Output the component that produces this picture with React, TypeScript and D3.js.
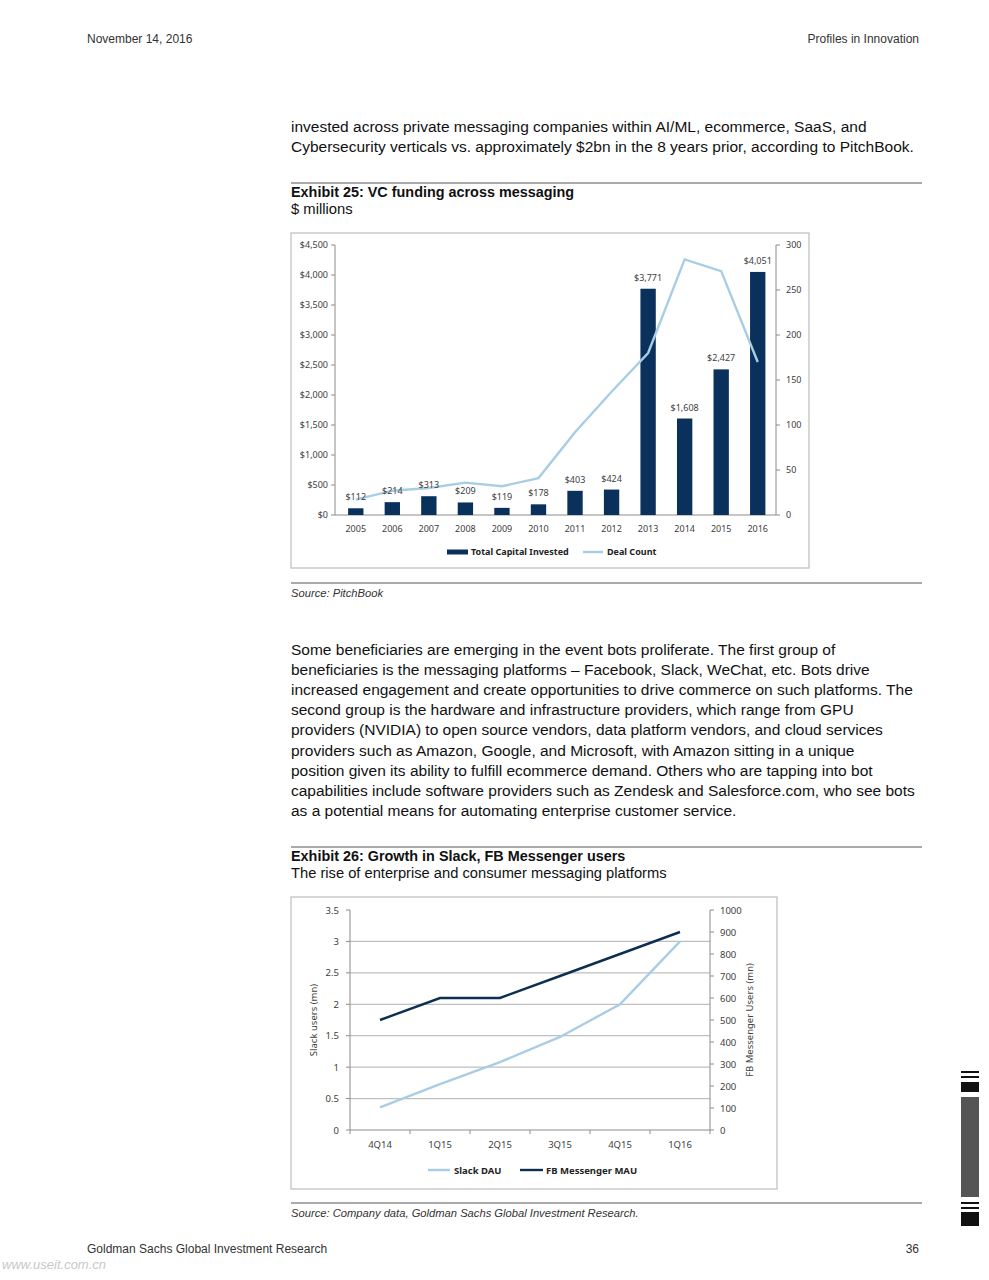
import * as d3 from "d3";

const years = ["2005", "2006", "2007", "2008", "2009", "2010", "2011", "2012", "2013", "2014", "2015", "2016"];
const capitalInvested = [112, 214, 313, 209, 119, 178, 403, 424, 3771, 1608, 2427, 4051];
const dealCount = [17, 27, 30, 36, 32, 41, 92, 137, 180, 284, 271, 170];
const capitalTicks = [0, 500, 1000, 1500, 2000, 2500, 3000, 3500, 4000, 4500];
const dealTicks = [0, 50, 100, 150, 200, 250, 300];

const quarters = ["4Q14", "1Q15", "2Q15", "3Q15", "4Q15", "1Q16"];
const slackDau = [0.36, 0.73, 1.08, 1.48, 2.0, 3.0];
const fbMau = [500, 600, 600, 700, 800, 900];
const slackTicks = [0, 0.5, 1, 1.5, 2, 2.5, 3, 3.5];
const fbTicks = [0, 100, 200, 300, 400, 500, 600, 700, 800, 900, 1000];

const para1 = [
  "invested across private messaging companies within AI/ML, ecommerce, SaaS, and",
  "Cybersecurity verticals vs. approximately $2bn in the 8 years prior, according to PitchBook.",
];
const para2 = [
  "Some beneficiaries are emerging in the event bots proliferate. The first group of",
  "beneficiaries is the messaging platforms – Facebook, Slack, WeChat, etc. Bots drive",
  "increased engagement and create opportunities to drive commerce on such platforms. The",
  "second group is the hardware and infrastructure providers, which range from GPU",
  "providers (NVIDIA) to open source vendors, data platform vendors, and cloud services",
  "providers such as Amazon, Google, and Microsoft, with Amazon sitting in a unique",
  "position given its ability to fulfill ecommerce demand. Others who are tapping into bot",
  "capabilities include software providers such as Zendesk and Salesforce.com, who see bots",
  "as a potential means for automating enterprise customer service.",
];

const BODY = "'Liberation Sans', Arial, sans-serif";
const CHART = "'Noto Sans', 'Open Sans', sans-serif";
const NAVY = "#0a315c";
const LIGHT = "#a8cde4";
const AXIS = "#8c8c8c";
const LABEL = "#404040";

const fmtMoney = (v: number) => `$${d3.format(",")(v)}`;

function FundingChart() {
  const x = d3.scaleBand<string>().domain(years).range([337.5, 776]).paddingInner(0.58).paddingOuter(0.29);
  const yL = d3.scaleLinear().domain([0, 4500]).range([515, 245]);
  const yR = d3.scaleLinear().domain([0, 300]).range([515, 245]);
  const cx = (d: string) => (x(d) ?? 0) + x.bandwidth() / 2;
  const line = d3
    .line<number>()
    .x((_, i) => cx(years[i]))
    .y((d) => yR(d));

  return (
    <g fontFamily={CHART} fill={LABEL}>
      <rect x={291} y={233} width={518} height={335} fill="white" stroke="#bdbdbd" strokeWidth={1.2} />
      <line x1={335} x2={335} y1={yL(4500)} y2={yL(0)} stroke={AXIS} />
      <line x1={776} x2={776} y1={yR(300)} y2={yR(0)} stroke={AXIS} />
      <line x1={335} x2={776} y1={515} y2={515} stroke={AXIS} />
      {capitalTicks.map((t) => (
        <g key={t}>
          <line x1={331} x2={335} y1={yL(t)} y2={yL(t)} stroke={AXIS} />
          <text x={328} y={yL(t) + 3} textAnchor="end" fontSize={9}>
            {fmtMoney(t)}
          </text>
        </g>
      ))}
      {dealTicks.map((t) => (
        <g key={t}>
          <line x1={776} x2={780} y1={yR(t)} y2={yR(t)} stroke={AXIS} />
          <text x={786} y={yR(t) + 3} fontSize={9}>
            {t}
          </text>
        </g>
      ))}
      {years.map((yr, i) => (
        <g key={yr}>
          <rect x={x(yr)} y={yL(capitalInvested[i])} width={x.bandwidth()} height={515 - yL(capitalInvested[i])} fill={NAVY} />
          <text x={cx(yr)} y={532} textAnchor="middle" fontSize={9}>
            {yr}
          </text>
        </g>
      ))}
      <path d={line(dealCount) ?? ""} fill="none" stroke={LIGHT} strokeWidth={2.4} />
      {years.map((yr, i) => (
        <text key={yr} x={cx(yr)} y={yL(capitalInvested[i]) - 8} textAnchor="middle" fontSize={9}>
          {fmtMoney(capitalInvested[i])}
        </text>
      ))}
      <g fontSize={9} fontWeight="bold" fill="#222">
        <rect x={447} y={549.5} width={21} height={5} fill={NAVY} />
        <text x={471} y={555}>Total Capital Invested</text>
        <line x1={583} x2={603} y1={552} y2={552} stroke={LIGHT} strokeWidth={2.4} />
        <text x={607} y={555}>Deal Count</text>
      </g>
    </g>
  );
}

function UsersChart() {
  const x = d3.scaleBand<string>().domain(quarters).range([350, 710]);
  const yL = d3.scaleLinear().domain([0, 3.5]).range([1130, 910]);
  const yR = d3.scaleLinear().domain([0, 1000]).range([1130, 910]);
  const cx = (d: string) => (x(d) ?? 0) + x.bandwidth() / 2;
  const slackLine = d3
    .line<number>()
    .x((_, i) => cx(quarters[i]))
    .y((d) => yL(d));
  const fbLine = d3
    .line<number>()
    .x((_, i) => cx(quarters[i]))
    .y((d) => yR(d));

  return (
    <g fontFamily={CHART} fill={LABEL}>
      <rect x={291} y={897} width={486} height={292} fill="white" stroke="#bdbdbd" strokeWidth={1.2} />
      {slackTicks
        .filter((t) => t > 0 && t < 3.5)
        .map((t) => (
          <line key={t} x1={350} x2={710} y1={yL(t)} y2={yL(t)} stroke="#bfbfbf" strokeWidth={1.2} />
        ))}
      <line x1={350} x2={350} y1={910} y2={1130} stroke={AXIS} />
      <line x1={710} x2={710} y1={910} y2={1130} stroke={AXIS} />
      <line x1={350} x2={710} y1={1130} y2={1130} stroke={AXIS} />
      {slackTicks.map((t) => (
        <g key={t}>
          <line x1={346} x2={350} y1={yL(t)} y2={yL(t)} stroke={AXIS} />
          <text x={339} y={yL(t) + 3.5} textAnchor="end" fontSize={9.5}>
            {t}
          </text>
        </g>
      ))}
      {fbTicks.map((t) => (
        <g key={t}>
          <line x1={710} x2={714} y1={yR(t)} y2={yR(t)} stroke={AXIS} />
          <text x={720} y={yR(t) + 3.5} fontSize={9.5}>
            {t}
          </text>
        </g>
      ))}
      {quarters.map((q) => (
        <g key={q}>
          <line x1={(x(q) ?? 0) + x.bandwidth()} x2={(x(q) ?? 0) + x.bandwidth()} y1={1130} y2={1134} stroke={AXIS} />
          <text x={cx(q)} y={1148} textAnchor="middle" fontSize={9.5}>
            {q}
          </text>
        </g>
      ))}
      <line x1={350} x2={350} y1={1130} y2={1134} stroke={AXIS} />
      <text transform="translate(317,1020) rotate(-90)" textAnchor="middle" fontSize={9.5}>
        Slack users (mn)
      </text>
      <text transform="translate(753,1020) rotate(-90)" textAnchor="middle" fontSize={9.5}>
        FB Messenger Users (mn)
      </text>
      <path d={slackLine(slackDau) ?? ""} fill="none" stroke={LIGHT} strokeWidth={2.4} />
      <path d={fbLine(fbMau) ?? ""} fill="none" stroke="#0d2f52" strokeWidth={2.4} />
      <g fontSize={9.5} fontWeight="bold" fill="#222">
        <line x1={428} x2={450} y1={1170} y2={1170} stroke={LIGHT} strokeWidth={2.4} />
        <text x={454} y={1173.5}>Slack DAU</text>
        <line x1={520} x2={543} y1={1170} y2={1170} stroke="#0d2f52" strokeWidth={2.4} />
        <text x={546} y={1173.5}>FB Messenger MAU</text>
      </g>
    </g>
  );
}

export default function App() {
  return (
    <div style={{ position: "absolute", left: 0, top: 0 }}>
      <svg width={989} height={1280} style={{ display: "block", background: "white" }}>
        <g fontFamily={BODY} fill="#333">
          <text x={87} y={43} fontSize={12}>November 14, 2016</text>
          <text x={919} y={43} fontSize={12} textAnchor="end">Profiles in Innovation</text>

          {para1.map((l, i) => (
            <text key={i} x={291} y={132 + i * 20} fontSize={15.5} fill="#111">
              {l}
            </text>
          ))}

          <line x1={291} x2={922} y1={183} y2={183} stroke="#555" strokeWidth={1} />
          <text x={291} y={197} fontSize={14.4} fontWeight="bold" fill="#111">Exhibit 25: VC funding across messaging</text>
          <text x={291} y={213.5} fontSize={14.8} fill="#111">$ millions</text>
          <FundingChart />
          <line x1={291} x2={922} y1={583} y2={583} stroke="#555" strokeWidth={1} />
          <text x={291} y={597} fontSize={11.2} fontStyle="italic" fill="#333">Source: PitchBook</text>

          {para2.map((l, i) => (
            <text key={i} x={291} y={655 + i * 20.1} fontSize={15.5} fill="#111">
              {l}
            </text>
          ))}

          <line x1={291} x2={922} y1={847} y2={847} stroke="#555" strokeWidth={1} />
          <text x={291} y={861} fontSize={14.4} fontWeight="bold" fill="#111">Exhibit 26: Growth in Slack, FB Messenger users</text>
          <text x={291} y={877.5} fontSize={14.7} fill="#111">The rise of enterprise and consumer messaging platforms</text>
          <UsersChart />
          <line x1={291} x2={922} y1={1203} y2={1203} stroke="#555" strokeWidth={1} />
          <text x={291} y={1217} fontSize={11.2} fontStyle="italic" fill="#333">
            Source: Company data, Goldman Sachs Global Investment Research.
          </text>

          <text x={87} y={1253} fontSize={12}>Goldman Sachs Global Investment Research</text>
          <text x={919} y={1253} fontSize={12} textAnchor="end">36</text>
          <text x={2} y={1269} fontSize={13} fill="#c8c8c8" fontStyle="italic">www.useit.com.cn</text>
        </g>
        <g fill="#111">
          <rect x={961} y={1071} width={18} height={2} />
          <rect x={961} y={1076} width={18} height={2} />
          <rect x={961} y={1082} width={18} height={10} />
          <rect x={961} y={1097} width={18} height={100} fill="#555" />
          <rect x={961} y={1202} width={18} height={2} />
          <rect x={961} y={1207} width={18} height={2} />
          <rect x={961} y={1212} width={18} height={14} />
        </g>
      </svg>
    </div>
  );
}
